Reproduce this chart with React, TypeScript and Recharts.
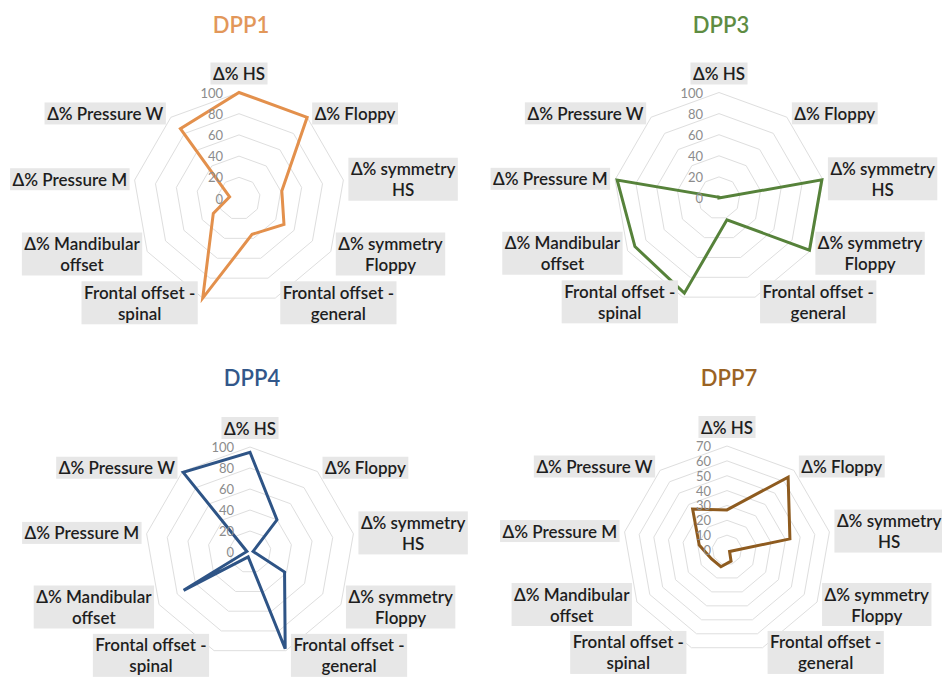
import React from "react";
import {
  RadarChart,
  PolarGrid,
  PolarAngleAxis,
  PolarRadiusAxis,
  Radar,
} from "recharts";

// axis names, "\n" marks where a label wraps
const categories = [
  "Δ% HS",
  "Δ% Floppy",
  "Δ% symmetry\nHS",
  "Δ% symmetry\nFloppy",
  "Frontal offset -\ngeneral",
  "Frontal offset -\nspinal",
  "Δ% Mandibular\noffset",
  "Δ% Pressure M",
  "Δ% Pressure W",
];

const dpp1 = [100, 100, 41, 49, 36, 100, 28, 9, 86];
const dpp3 = [2, 0, 99, 99, 22, 96, 92, 98, 1];
const dpp4 = [95, 40, 3, 38, 98, 5, 73, 3, 99];
const dpp7 = [27, 64, 43, 2, 8, 12, 12, 19, 36];

const ticks100 = [0, 20, 40, 60, 80, 100];
const ticks70 = [0, 10, 20, 30, 40, 50, 60, 70];

const FONT = "Lato, 'Open Sans', sans-serif";
const LABEL_SIZE = 17;
const LABEL_WEIGHT = 600;
const LINE_H = 21;

const panels = [
  { title: "DPP1", values: dpp1, ticks: ticks100, color: "#e3904c", titleColor: "#e2975a", left: 0, top: 0, titleY: 25, cx: 239, cy: 198.5, r: 106 },
  { title: "DPP3", values: dpp3, ticks: ticks100, color: "#56823a", titleColor: "#5e8c42", left: 471, top: 0, titleY: 25, cx: 248, cy: 198, r: 105.5 },
  { title: "DPP4", values: dpp4, ticks: ticks100, color: "#2e5486", titleColor: "#32578a", left: 0, top: 338, titleY: 40, cx: 250, cy: 214, r: 105 },
  { title: "DPP7", values: dpp7, ticks: ticks70, color: "#8e5b1f", titleColor: "#9a6324", left: 471, top: 338, titleY: 40, cx: 256, cy: 212, r: 104 },
];

let measureCtx: CanvasRenderingContext2D | null = null;
function textWidth(s: string) {
  if (!measureCtx) measureCtx = document.createElement("canvas").getContext("2d");
  measureCtx!.font = `${LABEL_WEIGHT} ${LABEL_SIZE}px ${FONT}`;
  return measureCtx!.measureText(s).width;
}

// grey label boxes hung off the outer ring corners
const makeAngleTick = (cx: number, cy: number, r: number) => (props: any) => {
  const name = String(props.payload.value);
  const i = categories.indexOf(name);
  const a = (Math.PI / 180) * (90 - (360 / categories.length) * i);
  const vx = cx + r * Math.cos(a);
  const vy = cy - r * Math.sin(a);
  const lines = name.split("\n");
  const w = Math.max(...lines.map(textWidth)) + 5;
  const h = lines.length * LINE_H + 1;
  let left: number;
  let top: number;
  if (Math.abs(Math.cos(a)) < 0.01) {
    left = vx - w / 2;
    top = vy - 8 - h;
  } else {
    left = Math.cos(a) > 0 ? vx + 5 : vx - 5 - w;
    top = vy - 5 * Math.sin(a) - h / 2;
  }
  return (
    <g>
      <rect x={left} y={top} width={w} height={h} fill="#e7e7e7" />
      <text
        textAnchor="middle"
        fontFamily={FONT}
        fontSize={LABEL_SIZE}
        fontWeight={LABEL_WEIGHT}
        fill="#1e1e1e"
      >
        {lines.map((l, k) => (
          <tspan
            key={k}
            x={left + w / 2}
            y={top + 0.5 + LINE_H * (k + 0.5)}
            dominantBaseline="central"
          >
            {l}
          </tspan>
        ))}
      </text>
    </g>
  );
};

const RadiusTick = (props: any) => (
  <text
    x={props.x - 16}
    y={props.y}
    textAnchor="end"
    dominantBaseline="central"
    fontFamily={FONT}
    fontSize={13}
    fill="#8c8c8c"
  >
    {props.payload.value}
  </text>
);

function Panel({ p }: { p: (typeof panels)[number] }) {
  const data = categories.map((name, i) => ({ name, value: p.values[i] }));
  const max = p.ticks[p.ticks.length - 1];
  return (
    <div style={{ position: "absolute", left: p.left, top: p.top, width: 471, height: 339 }}>
      <div
        style={{
          position: "absolute",
          left: 0,
          width: p.cx * 2 + 4,
          top: p.titleY - 15,
          textAlign: "center",
          fontFamily: FONT,
          fontWeight: 600,
          fontSize: 22,
          lineHeight: "30px",
          color: p.titleColor,
        }}
      >
        {p.title}
      </div>
      <RadarChart
        width={471}
        height={339}
        data={data}
        cx={p.cx}
        cy={p.cy}
        outerRadius={p.r}
        style={{ overflow: "visible" }}
      >
        <PolarGrid gridType="polygon" radialLines={false} stroke="#dedede" strokeWidth={1} />
        <PolarAngleAxis
          dataKey="name"
          tick={makeAngleTick(p.cx, p.cy, p.r)}
          tickLine={false}
          axisLine={false}
        />
        <PolarRadiusAxis
          angle={90}
          domain={[0, max]}
          ticks={p.ticks}
          tickCount={p.ticks.length}
          tick={RadiusTick}
          axisLine={false}
          tickLine={false}
        />
        <Radar
          dataKey="value"
          stroke={p.color}
          strokeWidth={3}
          fill="none"
          fillOpacity={0}
          isAnimationActive={false}
        />
      </RadarChart>
    </div>
  );
}

export default function App() {
  return (
    <div
      style={{
        position: "absolute",
        left: 0,
        top: 0,
        width: 942,
        height: 677,
        background: "#fff",
        overflow: "hidden",
      }}
    >
      {panels.map((p) => (
        <Panel key={p.title} p={p} />
      ))}
    </div>
  );
}
